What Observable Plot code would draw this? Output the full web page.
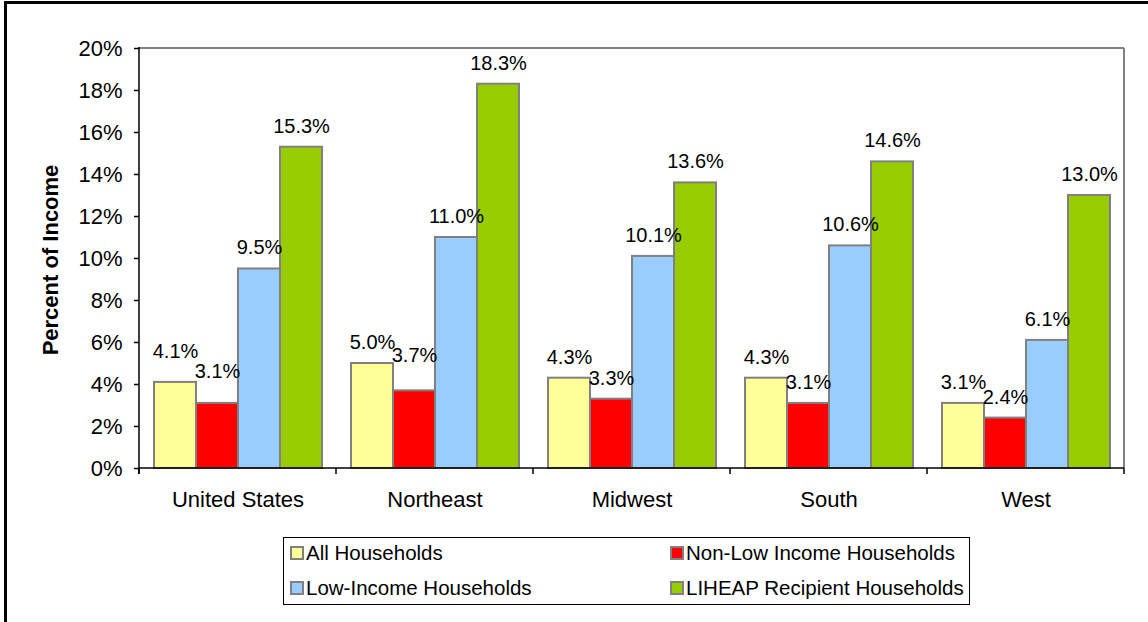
<!DOCTYPE html>
<html>
<head>
<meta charset="utf-8">
<script src="https://cdn.jsdelivr.net/npm/d3@7"></script>
<script src="https://cdn.jsdelivr.net/npm/@observablehq/plot@0.6"></script>
<style>
  html, body { margin: 0; padding: 0; background: #fff; }
  #wrap { position: relative; width: 1148px; height: 622px; overflow: hidden; font-family: "Liberation Sans", Arial, sans-serif; }
  #border { position: absolute; left: 4px; top: 1px; width: 1160px; height: 640px; border-left: 3px solid #000; border-top: 3px solid #000; box-sizing: border-box; }
  #chart { position: absolute; left: 0; top: 0; }
  #ytitle { position: absolute; left: 51px; top: 260px; transform: translate(-50%, -50%) rotate(-90deg); font-weight: bold; font-size: 22px; white-space: nowrap; color: #000; }
  #legend { position: absolute; left: 283px; top: 537px; width: 687px; height: 68px; border: 1px solid #000; box-sizing: border-box; font-size: 20.5px; color: #000; }
  .item { position: absolute; display: flex; align-items: center; white-space: nowrap; }
  .sw { width: 10px; height: 10px; border: 2px solid #808080; margin-right: 2px; box-sizing: content-box; }
</style>
</head>
<body>
<div id="wrap">
  <div id="border"></div>
  <div id="chart"></div>
  <div id="ytitle">Percent of Income</div>
  <div id="legend"></div>
</div>
<script>
const categories = ["United States", "Northeast", "Midwest", "South", "West"];
const series = ["All Households", "Non-Low Income Households", "Low-Income Households", "LIHEAP Recipient Households"];
const allHouseholds = [4.1, 5.0, 4.3, 4.3, 3.1];
const nonLowIncome = [3.1, 3.7, 3.3, 3.1, 2.4];
const lowIncome = [9.5, 11.0, 10.1, 10.6, 6.1];
const liheap = [15.3, 18.3, 13.6, 14.6, 13.0];
const yTicks = [0, 2, 4, 6, 8, 10, 12, 14, 16, 18, 20];

const colors = ["#FFFF99", "#FF0000", "#99CCFF", "#99CC00"];
const valuesBySeries = [allHouseholds, nonLowIncome, lowIncome, liheap];

const data = [];
categories.forEach((c, i) => {
  series.forEach((s, j) => data.push({category: c, series: s, value: valuesBySeries[j][i]}));
});

// label nudges (pixels, beyond the default lift) for labels moved to avoid overlap
const nudge = {"United States|All Households": 10, "United States|Non-Low Income Households": 11, "Northeast|Non-Low Income Households": 14};

const font = "Liberation Sans, Arial, sans-serif";

const frameMark = Plot.frame({
  facet: "super",
  render: (index, scales, values, dimensions) => {
    const fx = scales.fx, y = scales.y;
    const bw = typeof fx.bandwidth === "function" ? fx.bandwidth() : scales.scales.fx.bandwidth;
    const x0 = fx(categories[0]);
    const xs = categories.map(c => fx(c)).concat([fx(categories[categories.length - 1]) + bw]);
    const y0 = y(0), yTop = y(20);
    const g = d3.create("svg:g");
    g.append("line").attr("x1", x0).attr("x2", xs[xs.length - 1]).attr("y1", yTop).attr("y2", yTop).attr("stroke", "#808080").attr("stroke-width", 2);
    g.append("line").attr("x1", xs[xs.length - 1]).attr("x2", xs[xs.length - 1]).attr("y1", yTop).attr("y2", y0).attr("stroke", "#808080").attr("stroke-width", 2);
    g.append("line").attr("x1", x0).attr("x2", x0).attr("y1", yTop - 1).attr("y2", y0 + 6).attr("stroke", "#000").attr("stroke-width", 1.5);
    g.append("line").attr("x1", x0).attr("x2", xs[xs.length - 1]).attr("y1", y0).attr("y2", y0).attr("stroke", "#000").attr("stroke-width", 1.5);
    xs.forEach(x => g.append("line").attr("x1", x).attr("x2", x).attr("y1", y0).attr("y2", y0 + 6).attr("stroke", "#000").attr("stroke-width", 1.5));
    return g.node();
  }
});

const plot = Plot.plot({
  width: 1148,
  height: 530,
  marginLeft: 138,
  marginRight: 23,
  marginTop: 48,
  marginBottom: 62,
  style: {fontFamily: font, fontSize: "22px", color: "#000", background: "transparent"},
  fx: {domain: categories, padding: 0, label: null},
  x: {domain: series, paddingInner: 0, paddingOuter: 0.33, axis: null},
  y: {domain: [0, 20], label: null},
  color: {domain: series, range: colors},
  marks: [
    Plot.barY(data, {fx: "category", x: "series", y: "value", fill: "series", stroke: "#808080", strokeWidth: 2}),
    Plot.text(data, {
      fx: "category", x: "series", y: "value",
      text: d => d.value.toFixed(1) + "%",
      lineAnchor: "middle",
      fill: "#000",
      fontSize: 20,
      render: (index, scales, values, dimensions, context, next) => {
        const node = next(index, scales, values, dimensions, context);
        d3.select(node).selectAll("text").each(function(_, k) {
          const d = data[index[k]];
          const lift = 21 + (nudge[d.category + "|" + d.series] || 0);
          d3.select(this).attr("dy", -lift);
        });
        return node;
      }
    }),
    frameMark,
    Plot.axisY({ticks: yTicks, tickSize: 5, tickPadding: 12, tickFormat: d => d + "%", label: null, stroke: "#000", strokeWidth: 1.5}),
    Plot.axisFx({anchor: "bottom", tickSize: 0, tickPadding: 23, label: null})
  ]
});
document.getElementById("chart").appendChild(plot);

const legend = document.getElementById("legend");
const pos = [[6, 15], [386, 15], [6, 50], [386, 50]];
series.forEach((s, i) => {
  const it = document.createElement("div");
  it.className = "item";
  it.style.left = pos[i][0] + "px";
  it.style.top = (pos[i][1] - 12) + "px";
  it.style.height = "24px";
  const sw = document.createElement("div");
  sw.className = "sw";
  sw.style.background = colors[i];
  const tx = document.createElement("span");
  tx.textContent = s;
  it.appendChild(sw);
  it.appendChild(tx);
  legend.appendChild(it);
});
</script>
</body>
</html>
